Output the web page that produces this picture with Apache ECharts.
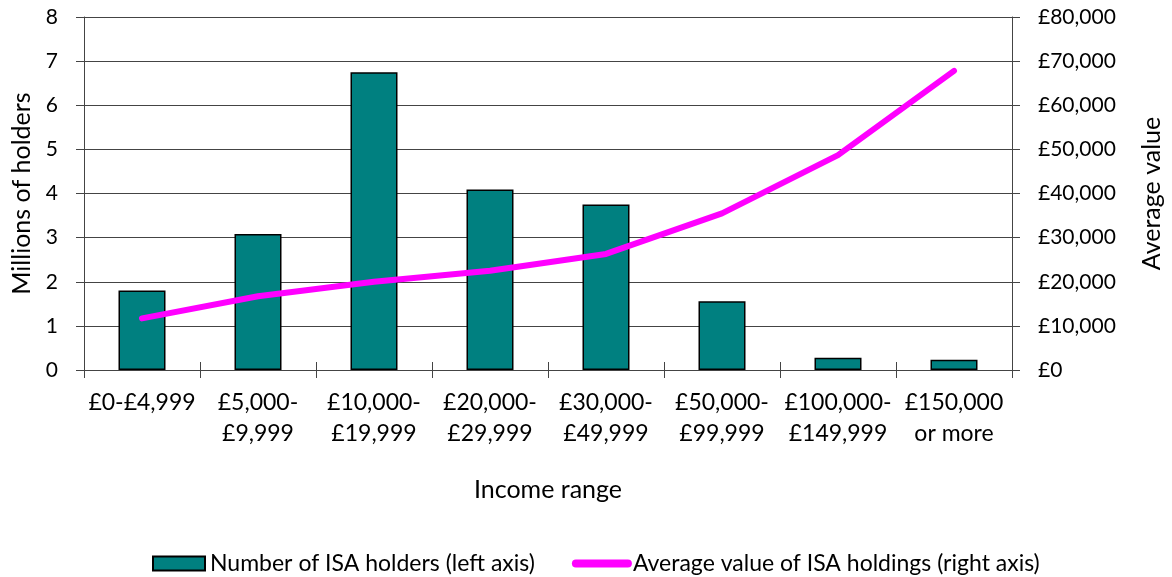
<!DOCTYPE html>
<html>
<head>
<meta charset="utf-8">
<script src="https://cdn.jsdelivr.net/npm/echarts@6/dist/echarts.min.js"></script>
<style>
  html, body { margin: 0; padding: 0; background: #fff; }
  #chart { width: 1172px; height: 577px; }
</style>
</head>
<body>
<div id="chart"></div>
<script>
// income bands
const categories = ['£0-£4,999', '£5,000-\n£9,999', '£10,000-\n£19,999', '£20,000-\n£29,999',
  '£30,000-\n£49,999', '£50,000-\n£99,999', '£100,000-\n£149,999', '£150,000\nor more'];
// millions of holders (left axis)
const holders = [1.80, 3.08, 6.75, 4.09, 3.75, 1.56, 0.28, 0.23];
// average value in £ (right axis)
const avgValue = [11700, 16700, 20000, 22500, 26300, 35500, 48700, 67800];

const font = 'Lato';
const axisColor = '#444';
const chart = echarts.init(document.getElementById('chart'));

const option = {
  animation: false,
  textStyle: { fontFamily: font, color: '#000' },
  grid: { left: 84, right: 154, top: 17, bottom: 207 },
  legend: {
    bottom: -3,
    left: 147,
    itemWidth: 52,
    itemHeight: 14,
    itemGap: 37,
    textStyle: { fontFamily: font, fontSize: 23, color: '#000' },
    data: [
      { name: 'Number of ISA holders (left axis)', icon: 'rect' },
      {
        name: 'Average value of ISA holdings (right axis)',
        itemStyle: { opacity: 0 },
        lineStyle: { width: 8, cap: 'round', color: '#FF00FF' }
      }
    ]
  },
  xAxis: [
    {
      type: 'category',
      data: categories,
      position: 'bottom',
      name: 'Income range',
      nameLocation: 'middle',
      nameGap: 107,
      nameTextStyle: { fontFamily: font, fontSize: 25, color: '#000' },
      axisLine: { lineStyle: { color: axisColor, width: 1 } },
      axisTick: { show: true, length: 8, lineStyle: { color: axisColor } },
      axisLabel: { fontFamily: font, fontSize: 23, color: '#000', lineHeight: 31, margin: 17, interval: 0 }
    },
    {
      // inner half of the crossing tick marks
      type: 'category',
      data: categories,
      position: 'bottom',
      axisLine: { show: false },
      axisTick: { show: true, inside: true, length: 8, lineStyle: { color: axisColor } },
      axisLabel: { show: false }
    }
  ],
  yAxis: [
    {
      type: 'value',
      min: 0, max: 8, interval: 1,
      name: 'Millions of holders',
      nameLocation: 'middle',
      nameRotate: 90,
      nameGap: 47,
      nameTextStyle: { fontFamily: font, fontSize: 25, color: '#000' },
      axisLine: { show: true, lineStyle: { color: axisColor } },
      axisTick: { show: true, length: 8, lineStyle: { color: axisColor } },
      axisLabel: { fontFamily: font, fontSize: 21, color: '#000', margin: 26 },
      splitLine: { lineStyle: { color: axisColor, width: 1 } }
    },
    {
      type: 'value',
      min: 0, max: 80000, interval: 10000,
      position: 'right',
      name: 'Average value',
      nameLocation: 'middle',
      nameRotate: 90,
      nameGap: 127,
      nameTextStyle: { fontFamily: font, fontSize: 25, color: '#000' },
      axisLine: { show: true, lineStyle: { color: axisColor } },
      axisTick: { show: true, length: 8, lineStyle: { color: axisColor } },
      axisLabel: {
        fontFamily: font, fontSize: 21, color: '#000', margin: 26,
        formatter: v => '£' + v.toLocaleString('en-GB')
      },
      splitLine: { show: false }
    }
  ],
  series: [
    {
      name: 'Number of ISA holders (left axis)',
      type: 'bar',
      data: holders,
      barWidth: 47,
      itemStyle: { color: '#008080', borderColor: '#000', borderWidth: 1.5 }
    },
    {
      name: 'Average value of ISA holdings (right axis)',
      type: 'line',
      yAxisIndex: 1,
      data: avgValue,
      symbol: 'none',
      lineStyle: { color: '#FF00FF', width: 6, cap: 'round', join: 'round' },
      itemStyle: { color: '#FF00FF' }
    }
  ]
};

chart.setOption(option);
</script>
</body>
</html>
